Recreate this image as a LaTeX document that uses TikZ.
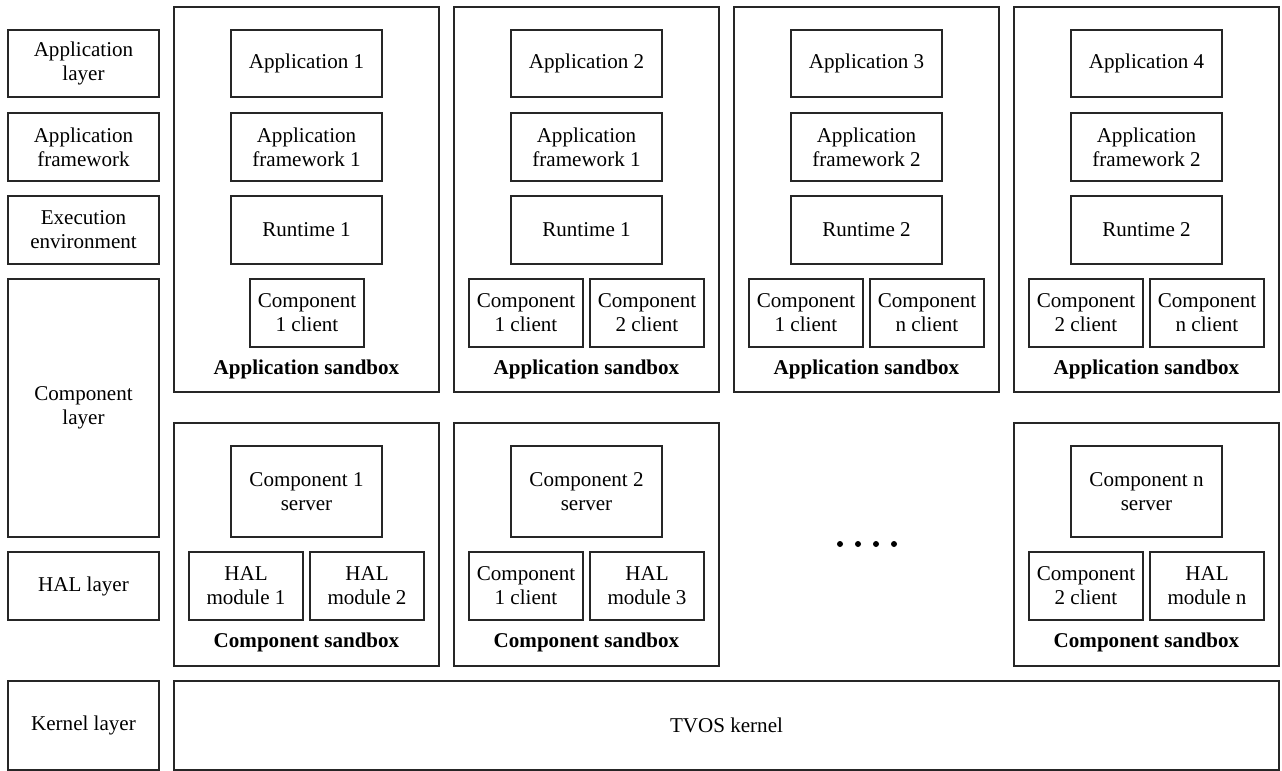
\documentclass[tikz,border=0pt]{standalone}
\usepackage{fontspec}
\setmainfont{Liberation Serif}
\begin{document}
\begin{tikzpicture}[x=0.75pt,y=-0.75pt,
  box/.style={draw=black!85, line width=1pt, inner sep=0pt, align=center,
    font=\fontsize{15.8}{18}\selectfont},
  lbl/.style={inner sep=0pt, font=\fontsize{15.8}{18}\selectfont\bfseries},
  dotmark/.style={fill=black, draw=none, circle, inner sep=0pt, minimum size=4.5pt}]
\useasboundingbox (0,0) rectangle (1282,771);
\newcommand\pbox[6]{\node[box, minimum width={(#4-#2)*0.75pt}, minimum height={(#5-#3)*0.75pt}] (#1) at ({(#2+#4)/2},{(#3+#5)/2}) {#6};}
% layer column
\pbox{layA}{8}{30}{159}{97}{Application\\layer}
\pbox{layB}{8}{113}{159}{181}{Application\\framework}
\pbox{layC}{8}{196}{159}{264}{Execution\\environment}
\pbox{layD}{8}{279}{159}{537}{Component\\layer}
\pbox{layE}{8}{552}{159}{620}{HAL layer}
\pbox{layF}{8}{681}{159}{770}{Kernel layer}
% application sandboxes
\pbox{asA}{174}{7}{439}{392}{}
\pbox{asB}{454}{7}{719}{392}{}
\pbox{asC}{734}{7}{999}{392}{}
\pbox{asD}{1014}{7}{1279}{392}{}
\node[lbl] (asAl) at (306.5,369) {Application sandbox};
\node[lbl] (asBl) at (586.5,369) {Application sandbox};
\node[lbl] (asCl) at (866.5,369) {Application sandbox};
\node[lbl] (asDl) at (1146.5,369) {Application sandbox};
% sandbox 1
\pbox{a1app}{231}{30}{382}{97}{Application 1}
\pbox{a1fw}{231}{113}{382}{181}{Application\\framework 1}
\pbox{a1rt}{231}{196}{382}{264}{Runtime 1}
\pbox{a1c1}{250}{279}{364}{347}{Component\\1 client}
% sandbox 2
\pbox{a2app}{511}{30}{662}{97}{Application 2}
\pbox{a2fw}{511}{113}{662}{181}{Application\\framework 1}
\pbox{a2rt}{511}{196}{662}{264}{Runtime 1}
\pbox{a2c1}{469}{279}{583}{347}{Component\\1 client}
\pbox{a2c2}{590}{279}{704}{347}{Component\\2 client}
% sandbox 3
\pbox{a3app}{791}{30}{942}{97}{Application 3}
\pbox{a3fw}{791}{113}{942}{181}{Application\\framework 2}
\pbox{a3rt}{791}{196}{942}{264}{Runtime 2}
\pbox{a3c1}{749}{279}{863}{347}{Component\\1 client}
\pbox{a3c2}{870}{279}{984}{347}{Component\\n client}
% sandbox 4
\pbox{a4app}{1071}{30}{1222}{97}{Application 4}
\pbox{a4fw}{1071}{113}{1222}{181}{Application\\framework 2}
\pbox{a4rt}{1071}{196}{1222}{264}{Runtime 2}
\pbox{a4c1}{1029}{279}{1143}{347}{Component\\2 client}
\pbox{a4c2}{1150}{279}{1264}{347}{Component\\n client}
% component sandboxes
\pbox{csA}{174}{423}{439}{666}{}
\pbox{csB}{454}{423}{719}{666}{}
\pbox{csC}{1014}{423}{1279}{666}{}
\node[lbl] (csAl) at (306.5,642) {Component sandbox};
\node[lbl] (csBl) at (586.5,642) {Component sandbox};
\node[lbl] (csCl) at (1146.5,642) {Component sandbox};
\pbox{c1srv}{231}{446}{382}{537}{Component 1\\server}
\pbox{c1h1}{189}{552}{303}{620}{HAL\\module 1}
\pbox{c1h2}{310}{552}{424}{620}{HAL\\module 2}
\pbox{c2srv}{511}{446}{662}{537}{Component 2\\server}
\pbox{c2c1}{469}{552}{583}{620}{Component\\1 client}
\pbox{c2h3}{590}{552}{704}{620}{HAL\\module 3}
\pbox{cnsrv}{1071}{446}{1222}{537}{Component n\\server}
\pbox{cnc2}{1029}{552}{1143}{620}{Component\\2 client}
\pbox{cnhn}{1150}{552}{1264}{620}{HAL\\module n}
% dots
\node[dotmark] (d1) at (840,544) {};
\node[dotmark] (d2) at (858,544) {};
\node[dotmark] (d3) at (876,544) {};
\node[dotmark] (d4) at (894,544) {};
% kernel
\pbox{kern}{174}{681}{1279}{770}{TVOS kernel}
\end{tikzpicture}
\end{document}
